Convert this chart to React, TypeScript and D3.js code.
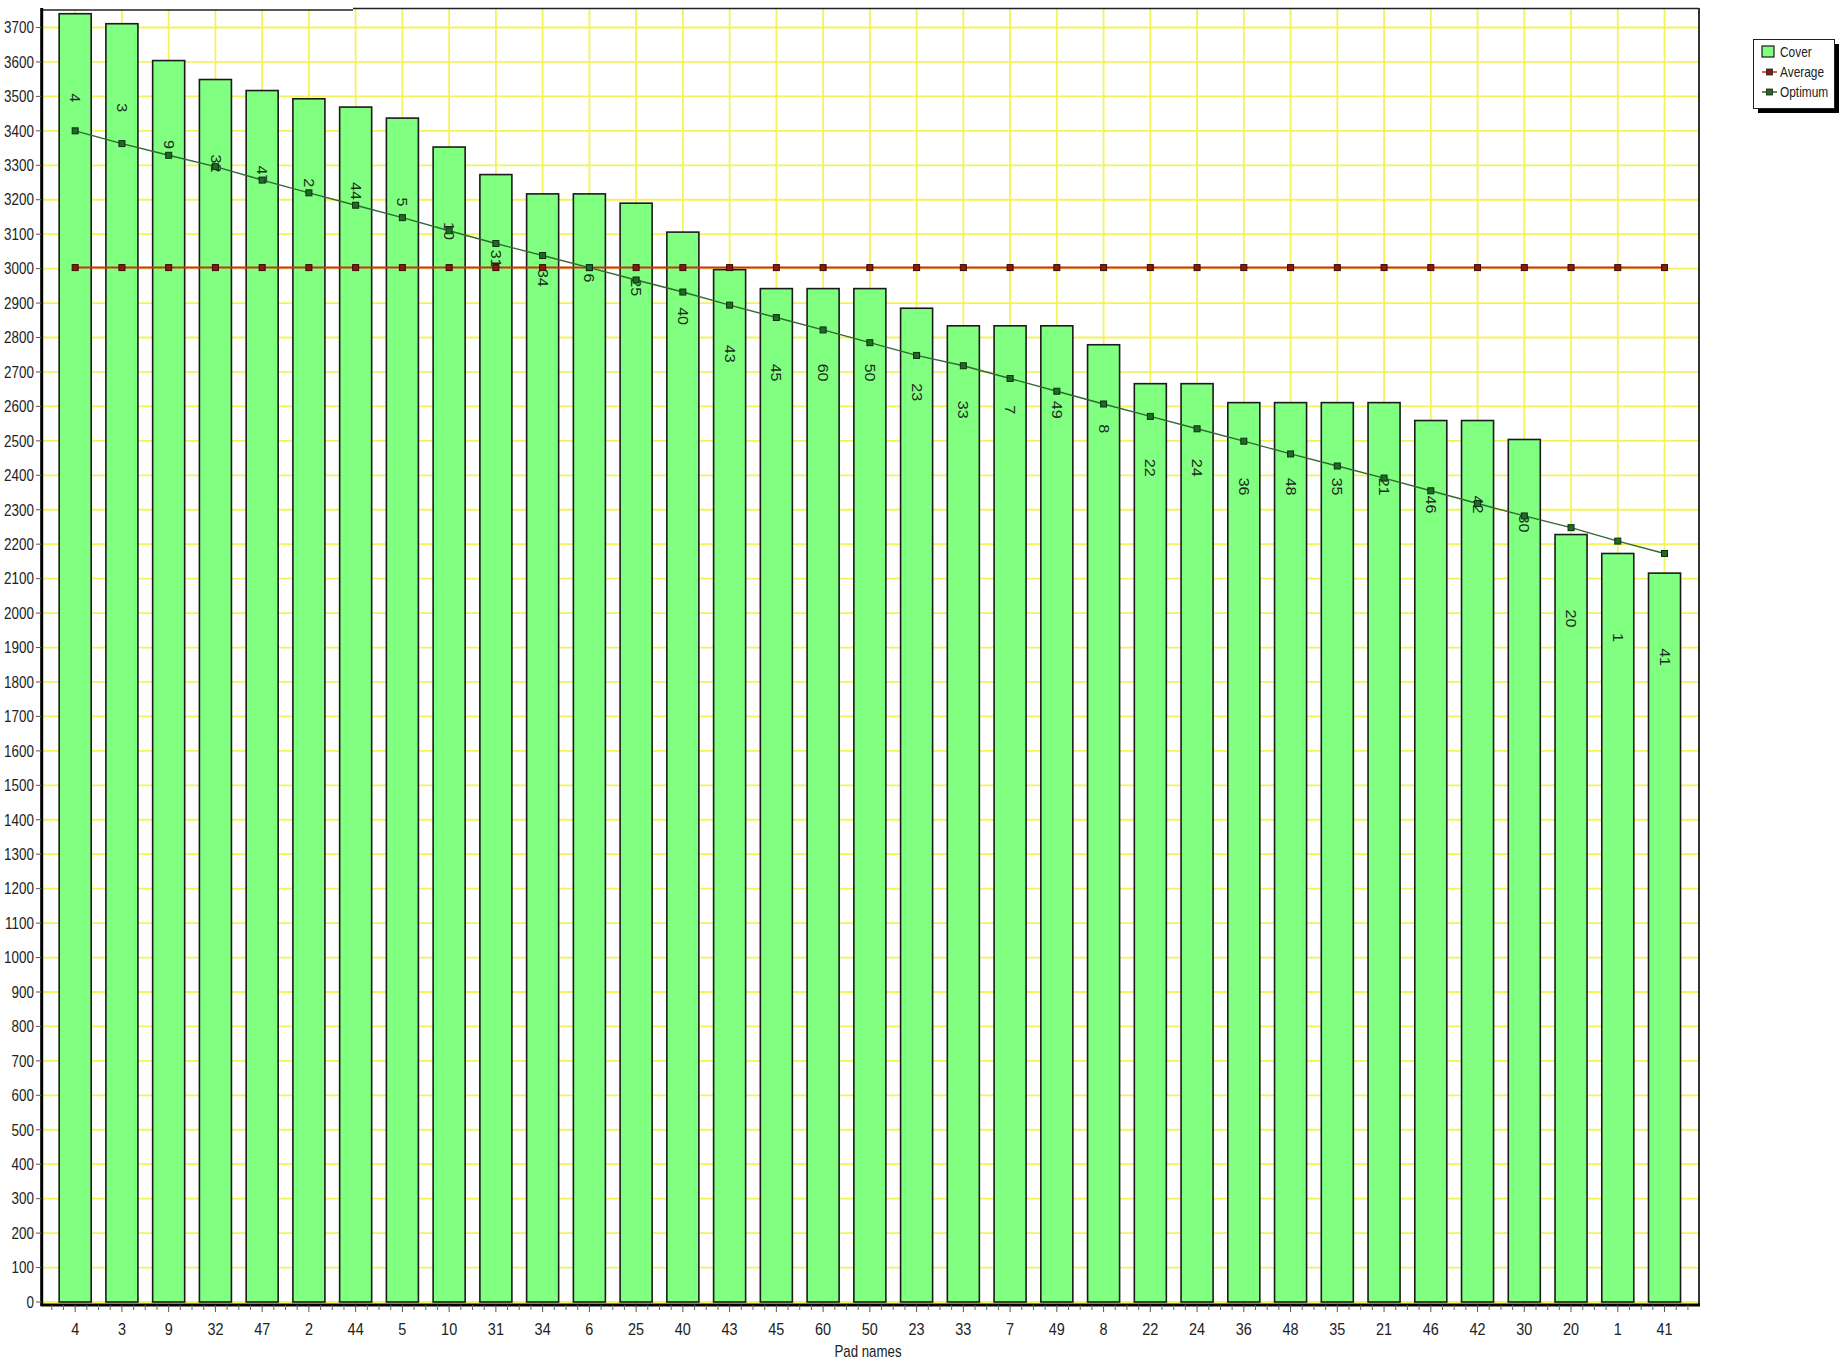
import React from "react";
import * as d3 from "d3";

const categories = ["4","3","9","32","47","2","44","5","10","31","34","6","25","40","43","45","60","50","23","33","7","49","8","22","24","36","48","35","21","46","42","30","20","1","41"];

const coverValues = [3740,3711,3604,3549,3517,3493,3469,3437,3353,3273,3217,3217,3190,3106,2997,2942,2942,2942,2885,2834,2834,2834,2779,2666,2666,2611,2611,2611,2611,2559,2559,2504,2228,2173,2116];

const averageValues = [3003,3003,3003,3003,3003,3003,3003,3003,3003,3003,3003,3003,3003,3003,3003,3003,3003,3003,3003,3003,3003,3003,3003,3003,3003,3003,3003,3003,3003,3003,3003,3003,3003,3003,3003];

const optimumValues = [3400,3363,3329,3296,3257,3220,3184,3148,3110,3073,3038,3003,2967,2932,2894,2858,2822,2785,2748,2718,2681,2644,2607,2571,2535,2499,2462,2427,2392,2355,2318,2282,2248,2209,2173];

const yTickValues = [0,100,200,300,400,500,600,700,800,900,1000,1100,1200,1300,1400,1500,1600,1700,1800,1900,2000,2100,2200,2300,2400,2500,2600,2700,2800,2900,3000,3100,3200,3300,3400,3500,3600,3700];

const legendItems = ["Cover", "Average", "Optimum"];

const W = 1843;
const H = 1362;
const PL = 41.7;
const PR = 1699;
const PT = 9;
const PB = 1305;
const FONT = "'Liberation Sans', Arial, sans-serif";

export default function App() {
  const x = d3
    .scaleBand<string>()
    .domain(categories)
    .range([51.8, 1687.9])
    .paddingInner(0.315)
    .paddingOuter(0.1575);
  const y = d3.scaleLinear().domain([0, 3700]).range([1302, 27.5]);
  const cx = (c: string) => (x(c) as number) + x.bandwidth() / 2;
  const step = x.step();

  const minorTicks: number[] = [];
  categories.forEach((c) => {
    [-0.5, -0.25, 0.25].forEach((f) => minorTicks.push(cx(c) + f * step));
  });
  minorTicks.push(cx(categories[categories.length - 1]) + 0.5 * step);

  const line = d3
    .line<number>()
    .x((_, i) => cx(categories[i]))
    .y((v) => y(v));

  const M = 6;

  return (
    <div style={{ position: "absolute", left: 0, top: 0 }}>
      <svg width={W} height={H} style={{ display: "block", background: "#fff" }}>
        <rect x={PL} y={PT} width={PR - PL} height={PB - PT} fill="#ffffff" />
        {/* horizontal grid */}
        {yTickValues.map((t) => (
          <line key={"hg" + t} x1={PL} x2={PR} y1={y(t)} y2={y(t)} stroke="#f3f35a" strokeWidth={1.8} />
        ))}
        {/* vertical grid */}
        {categories.map((c) => (
          <line key={"vg" + c} x1={cx(c)} x2={cx(c)} y1={PT} y2={PB} stroke="#f3f35a" strokeWidth={1.8} />
        ))}
        {/* bars */}
        {categories.map((c, i) => (
          <rect
            key={"b" + c}
            x={x(c)}
            y={y(coverValues[i])}
            width={x.bandwidth()}
            height={y(0) - y(coverValues[i])}
            fill="#80ff80"
            stroke="#1a1a1a"
            strokeWidth={1.6}
          />
        ))}
        {/* bar labels */}
        {categories.map((c, i) => (
          <g key={"bl" + c} transform={`translate(${cx(c)},${y(coverValues[i]) + 84}) rotate(90) scale(1.15,1)`}>
            <text
              textAnchor="middle"
              dy="0.35em"
              fontFamily={FONT}
              fontSize={14}
              fill="#1e2a1e"
            >
              {c}
            </text>
          </g>
        ))}
        {/* average line */}
        <path d={line(averageValues) || ""} fill="none" stroke="#d0300a" strokeWidth={2} />
        {averageValues.map((v, i) => (
          <rect
            key={"am" + i}
            x={cx(categories[i]) - M / 2}
            y={y(v) - M / 2}
            width={M}
            height={M}
            fill="#8a1a10"
            stroke="#3a0a05"
            strokeWidth={1}
          />
        ))}
        {/* optimum line */}
        <path d={line(optimumValues) || ""} fill="none" stroke="#2f6a2f" strokeWidth={1.4} />
        {optimumValues.map((v, i) => (
          <rect
            key={"om" + i}
            x={cx(categories[i]) - M / 2}
            y={y(v) - M / 2}
            width={M}
            height={M}
            fill="#1f6a26"
            stroke="#0d2e10"
            strokeWidth={1}
          />
        ))}
        {/* borders */}
        <line x1={PL} x2={353} y1={10} y2={10} stroke="#222" strokeWidth={1.6} />
        <line x1={353} x2={PR} y1={8.5} y2={8.5} stroke="#222" strokeWidth={1.6} />
        <line x1={PR} x2={PR} y1={8} y2={PB} stroke="#333" strokeWidth={2} />
        <line x1={PL} x2={PL} y1={8} y2={PB + 1} stroke="#000" strokeWidth={3} />
        <line x1={PL - 1} x2={PR + 1} y1={PB} y2={PB} stroke="#000" strokeWidth={3} />
        {/* y axis ticks & labels */}
        {yTickValues.map((t) => (
          <g key={"yt" + t}>
            <line x1={36} x2={PL} y1={y(t)} y2={y(t)} stroke="#555" strokeWidth={1} />
            <g transform={`translate(34,${y(t)}) scale(0.84,1)`}>
              <text textAnchor="end" dy="0.36em" fontFamily={FONT} fontSize={16} fill="#222">
                {t}
              </text>
            </g>
          </g>
        ))}
        {/* x axis ticks */}
        {minorTicks.map((t, i) => (
          <line key={"mt" + i} x1={t} x2={t} y1={PB} y2={PB + 5} stroke="#666" strokeWidth={1} />
        ))}
        {categories.map((c) => (
          <g key={"xt" + c}>
            <line x1={cx(c)} x2={cx(c)} y1={PB} y2={PB + 7} stroke="#555" strokeWidth={1} />
            <g transform={`translate(${cx(c)},1328.5) scale(0.85,1)`}>
              <text textAnchor="middle" dy="0.36em" fontFamily={FONT} fontSize={17} fill="#222">
                {c}
              </text>
            </g>
          </g>
        ))}
        <g transform={`translate(868,1351.5) scale(0.83,1)`}>
          <text textAnchor="middle" dy="0.36em" fontFamily={FONT} fontSize={16} fill="#222">
            Pad names
          </text>
        </g>
        {/* legend */}
        <rect x={1758} y={44} width={81} height={69} fill="#000" />
        <rect x={1753.5} y={39.5} width={81} height={69} fill="#fff" stroke="#222" strokeWidth={1} />
        {legendItems.map((name, i) => {
          const ly = 52 + i * 20;
          return (
            <g key={"lg" + name}>
              {i === 0 ? (
                <rect x={1762} y={ly - 6} width={12} height={11} fill="#80ff80" stroke="#1a1a1a" strokeWidth={1.2} />
              ) : (
                <g>
                  <line x1={1762} x2={1777} y1={ly} y2={ly} stroke={i === 1 ? "#d0300a" : "#2f6a2f"} strokeWidth={1.5} />
                  <rect x={1766.5} y={ly - 3} width={6} height={6} fill={i === 1 ? "#8a1a10" : "#1f6a26"} stroke="#222" strokeWidth={0.8} />
                </g>
              )}
              <g transform={`translate(1780,${ly}) scale(0.85,1)`}>
                <text dy="0.36em" fontFamily={FONT} fontSize={14} fill="#222">
                  {name}
                </text>
              </g>
            </g>
          );
        })}
      </svg>
    </div>
  );
}
